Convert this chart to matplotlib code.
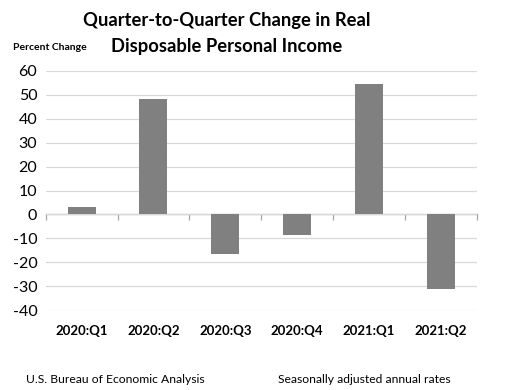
import matplotlib.pyplot as plt
import numpy as np

# Real DPI, percent change at annual rate
quarters = ["2020:Q1", "2020:Q2", "2020:Q3", "2020:Q4", "2021:Q1", "2021:Q2"]
pct_change = [3.2, 48.4, -16.7, -8.4, 54.5, -31.2]

plt.rcParams["font.family"] = ["Lato", "DejaVu Sans"]
plt.rcParams["axes.unicode_minus"] = False

fig = plt.figure(figsize=(5.11, 3.90), dpi=100)
ax = fig.add_axes([0.0894, 0.205, 0.8437, 0.613])

x = np.arange(len(quarters))
ax.bar(x, pct_change, width=0.39, color="#808080", zorder=3)

ax.set_xlim(-0.5, len(quarters) - 0.5)
ax.set_ylim(-40, 60)
ax.set_yticks(range(-40, 61, 10))
ax.grid(axis="y", color="#d9d9d9", linewidth=0.9, zorder=0)
ax.tick_params(axis="y", length=0, labelsize=11.5, pad=6, labelcolor="#000000")

ax.set_xticks(x)
ax.set_xticklabels(quarters, fontsize=9.5, fontweight="bold")
ax.tick_params(axis="x", length=0, pad=11)

for s in ax.spines.values():
    s.set_visible(False)

# zero line with tick marks between categories
zero = ax.secondary_xaxis(0.4)
zero.set_xticks(np.arange(-0.5, len(quarters), 1.0))
zero.set_xticklabels([])
zero.tick_params(axis="x", direction="out", length=4, color="#a6a6a6", width=0.9)
zero.spines["bottom"].set_color("#a6a6a6")
zero.spines["bottom"].set_linewidth(0.9)

fig.text(0.444, 0.948, "Quarter-to-Quarter Change in Real", ha="center", va="center",
         fontsize=13.2, fontweight="bold")
fig.text(0.444, 0.882, "Disposable Personal Income", ha="center", va="center",
         fontsize=13.2, fontweight="bold")
fig.text(0.025, 0.879, "Percent Change", ha="left", va="center", fontsize=7.5, fontweight="bold")

fig.text(0.05, 0.026, "U.S. Bureau of Economic Analysis", ha="left", va="center", fontsize=8.7)
fig.text(0.544, 0.026, "Seasonally adjusted annual rates", ha="left", va="center", fontsize=8.7)

fig.savefig("out.png", dpi=100)
